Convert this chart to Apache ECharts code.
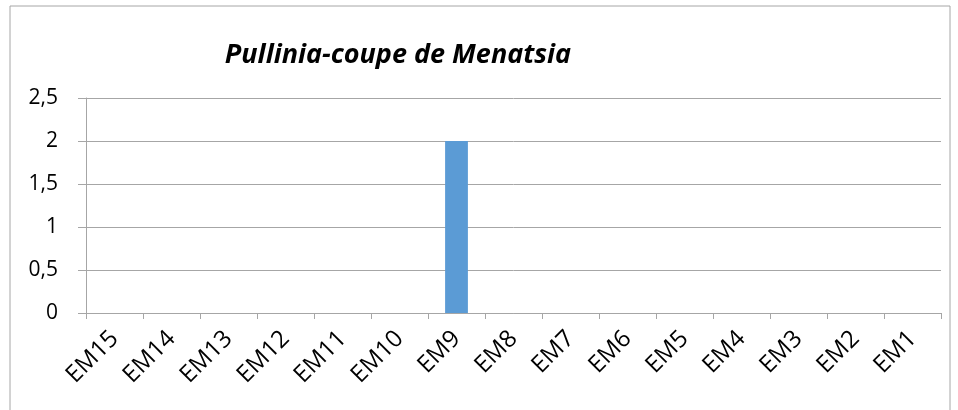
<!DOCTYPE html>
<html>
<head>
<meta charset="utf-8">
<script src="https://cdn.jsdelivr.net/npm/echarts@6/dist/echarts.min.js"></script>
<style>
  html, body { margin: 0; padding: 0; background: #fff; }
  #chart { width: 958px; height: 410px; }
</style>
</head>
<body>
<div id="chart"></div>
<script>
const categories = ['EM15', 'EM14', 'EM13', 'EM12', 'EM11', 'EM10', 'EM9', 'EM8', 'EM7', 'EM6', 'EM5', 'EM4', 'EM3', 'EM2', 'EM1'];
const values = [0, 0, 0, 0, 0, 0, 2, 0, 0, 0, 0, 0, 0, 0, 0];
const yTicks = [0, 0.5, 1, 1.5, 2, 2.5];

const chart = echarts.init(document.getElementById('chart'));
chart.setOption({
  animation: false,
  title: {
    text: 'Pullinia-coupe de Menatsia',
    left: 393,
    textAlign: 'center',
    top: 37,
    textStyle: {
      fontFamily: 'Open Sans',
      fontStyle: 'italic',
      fontWeight: 'bold',
      fontSize: 27,
      color: '#000'
    }
  },
  graphic: [{
    type: 'rect',
    shape: { x: 10, y: 6, width: 940, height: 410 },
    style: { fill: 'none', stroke: '#a6a6a6', lineWidth: 1 }
  }],
  grid: { left: 86, right: 17, top: 98, bottom: 97 },
  xAxis: {
    type: 'category',
    data: categories,
    axisLine: { lineStyle: { color: '#a6a6a6' } },
    axisTick: { show: true, length: 6, alignWithLabel: false, lineStyle: { color: '#a6a6a6' } },
    axisLabel: {
      rotate: 45,
      margin: 22,
      fontFamily: 'Open Sans',
      fontSize: 24,
      color: '#000'
    }
  },
  yAxis: {
    type: 'value',
    min: yTicks[0],
    max: yTicks[yTicks.length - 1],
    interval: 0.5,
    axisLine: { show: true, lineStyle: { color: '#a6a6a6' } },
    axisTick: { show: true, length: 8, lineStyle: { color: '#a6a6a6' } },
    splitLine: { lineStyle: { color: '#a6a6a6' } },
    axisLabel: {
      margin: 28,
      fontFamily: 'Open Sans',
      fontSize: 21,
      color: '#000',
      formatter: v => String(v).replace('.', ',')
    }
  },
  series: [{
    type: 'bar',
    data: values,
    barWidth: '40%',
    itemStyle: { color: '#5b9bd5' }
  }]
});
</script>
</body>
</html>
